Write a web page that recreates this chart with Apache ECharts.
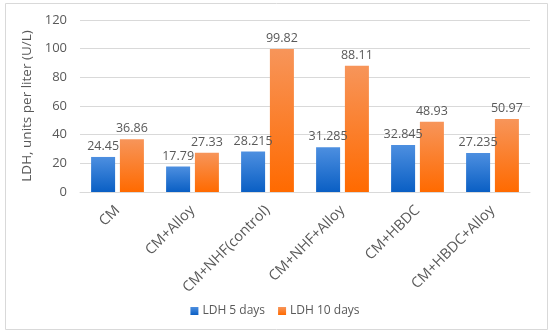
<!DOCTYPE html>
<html><head><meta charset="utf-8">
<script src="https://cdn.jsdelivr.net/npm/echarts@6/dist/echarts.min.js"></script>
<style>html,body{margin:0;padding:0;background:#fff}#c{width:550px;height:334px}</style>
</head><body><div id="c"></div>
<script>
const categories = ['CM','CM+Alloy','CM+NHF(control)','CM+NHF+Alloy','CM+HBDC','CM+HBDC+Alloy'];
const ldh5 = [24.45, 17.79, 28.215, 31.285, 32.845, 27.235];
const ldh10 = [36.86, 27.33, 99.82, 88.11, 48.93, 50.97];
const seriesNames = ['LDH 5 days','LDH 10 days'];
const yTicks = {min:0, max:120, interval:20};
const yName = 'LDH, units per liter (U/L)';

const font = '"Open Sans", "Noto Sans", sans-serif';
const txt = '#595959';
const chart = echarts.init(document.getElementById('c'), null, {renderer:'canvas'});
const blue = new echarts.graphic.LinearGradient(0,0,0,1,[{offset:0,color:'#4d8fe0'},{offset:1,color:'#0a5fc4'}]);
const orange = new echarts.graphic.LinearGradient(0,0,0,1,[{offset:0,color:'#f7955a'},{offset:1,color:'#ff6a00'}]);
chart.setOption({
  animation:false,
  textStyle:{fontFamily:font},
  graphic:[{type:'rect',shape:{x:5.5,y:3.5,width:542,height:326},style:{fill:'none',stroke:'#d9d9d9',lineWidth:1}}],
  grid:{left:80,right:20,top:20,bottom:142},
  legend:{top:300,left:'center',itemWidth:8,itemHeight:8,itemGap:13,icon:'rect',
    textStyle:{color:txt,fontSize:12,fontFamily:font,padding:[0,0,0,-1]},data:seriesNames},
  xAxis:{type:'category',data:categories,
    axisLine:{lineStyle:{color:'#d9d9d9'}},axisTick:{show:false},
    axisLabel:{rotate:45,color:txt,fontSize:14.5,fontFamily:font,margin:16,interval:0}},
  yAxis:{type:'value',min:yTicks.min,max:yTicks.max,interval:yTicks.interval,
    name:yName,nameLocation:'middle',nameGap:38,nameRotate:90,
    nameTextStyle:{color:txt,fontSize:13.5,fontFamily:font},
    axisLine:{show:false},axisTick:{show:false},
    axisLabel:{color:txt,fontSize:13,fontFamily:font,margin:13},
    splitLine:{lineStyle:{color:'#d9d9d9'}}},
  series:[
    {name:seriesNames[0],type:'bar',data:ldh5,barWidth:24,barGap:'20%',
     itemStyle:{color:blue},
     label:{show:true,position:'top',distance:4,color:txt,fontSize:12.5,fontFamily:font}},
    {name:seriesNames[1],type:'bar',data:ldh10,barWidth:24,
     itemStyle:{color:orange},
     label:{show:true,position:'top',distance:4,color:txt,fontSize:12.5,fontFamily:font}}
  ]
});
</script></body></html>
